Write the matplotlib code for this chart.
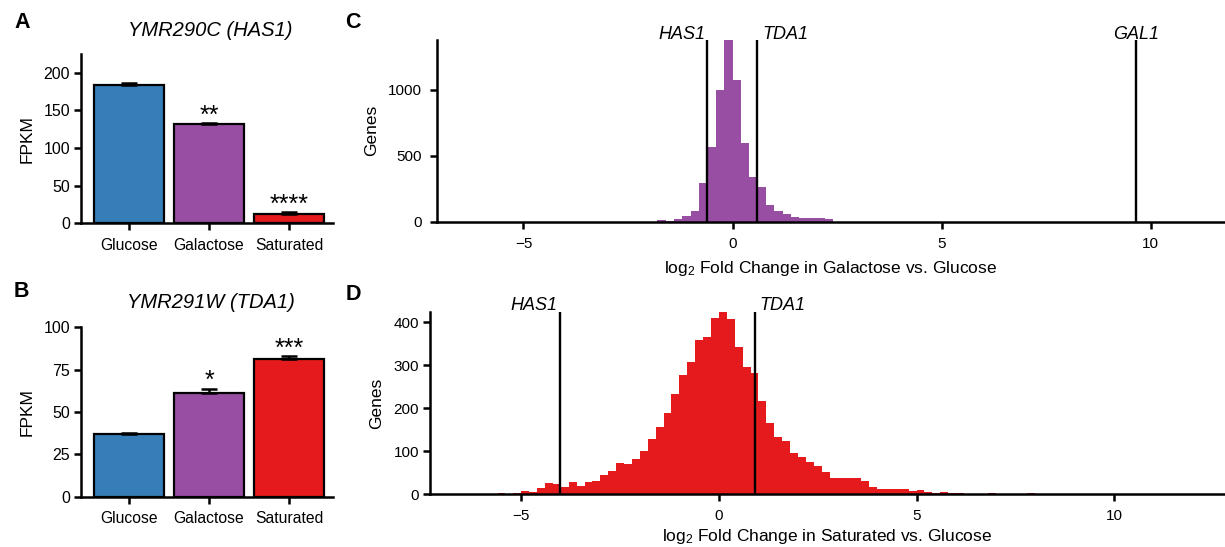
import numpy as np
import matplotlib
matplotlib.use('Agg')
import matplotlib.pyplot as plt

plt.rcParams['font.family'] = ['Liberation Sans', 'DejaVu Sans']
plt.rcParams['mathtext.fontset'] = 'custom'
plt.rcParams['mathtext.rm'] = 'Liberation Sans'
plt.rcParams['mathtext.it'] = 'Liberation Sans:italic'
plt.rcParams['axes.unicode_minus'] = True

# ---------------- data ----------------
conditions = ['Glucose', 'Galactose', 'Saturated']
has1_fpkm = [183.5, 131.5, 12.5]
has1_err = [3.0, 1.5, 2.0]
has1_stars = ['', '**', '****']
tda1_fpkm = [36.8, 61.0, 81.5]
tda1_err = [0.6, 2.7, 1.3]
tda1_stars = ['', '*', '***']

bin_width = 0.2
gal_bin_start = -1.8
gal_counts = [13, 2, 20, 44, 83, 295, 567, 1000, 1378, 1072, 597, 339, 265,
              129, 82, 58, 38, 30, 30, 29, 20]
sat_bin_start = -5.6
sat_counts = [2, 1, 3, 8, 5, 15, 26, 23, 17, 29, 20, 29, 31, 45, 54, 73, 71,
              83, 100, 128, 156, 190, 233, 277, 308, 359, 366, 410, 425, 409,
              344, 297, 282, 217, 166, 134, 124, 96, 86, 76, 65, 53, 39, 39,
              39, 37, 30, 17, 13, 13, 13, 13, 8, 10, 6, 3, 5, 3, 3, 1, 1, 0,
              3, 1, 0, 0, 0, 3, 1]

gal_genes = ['HAS1', 'TDA1', 'GAL1']
gal_gene_lfc = [-0.61, 0.585, 9.64]
sat_genes = ['HAS1', 'TDA1']
sat_gene_lfc = [-4.03, 0.91]

# ---------------- styling ----------------
W, H = 1225, 547
fig = plt.figure(figsize=(W / 100, H / 100), dpi=100)
colors = ['#377EB8', '#984EA3', '#E41A1C']
LW = 1.8


def ax_px(left, top, right, bottom):
    return fig.add_axes([left / W, 1 - bottom / H, (right - left) / W, (bottom - top) / H])


def fig_text(px, py, s, **kw):
    fig.text(px / W, 1 - py / H, s, **kw)


def style_axes(ax, ypad, xpad):
    for s in ['top', 'right']:
        ax.spines[s].set_visible(False)
    for s in ['left', 'bottom']:
        ax.spines[s].set_linewidth(LW)
    ax.tick_params(axis='both', direction='out', length=5.3, width=LW, colors='black')
    ax.tick_params(axis='y', pad=ypad)
    ax.tick_params(axis='x', pad=xpad)


def bar_panel(ax, vals, errs, stars, ylim, yticks):
    x = np.arange(len(conditions))
    ax.bar(x, vals, width=0.88, color=colors, edgecolor='black', linewidth=1.6, zorder=2)
    ax.errorbar(x, vals, yerr=[np.zeros(len(errs)), errs], fmt='none', ecolor='black',
                elinewidth=LW, capsize=5.5, capthick=LW, zorder=3)
    for xi, v, e, s in zip(x, vals, errs, stars):
        if s:
            ax.annotate(s, xy=(xi, v + e), xytext=(0, 0.5), textcoords='offset points',
                        ha='center', va='baseline', fontsize=18)
    ax.set_xlim(-0.6, 2.55)
    ax.set_ylim(*ylim)
    ax.set_yticks(yticks)
    ax.set_xticks(x)
    ax.set_xticklabels(conditions, fontsize=11.3)
    ax.tick_params(axis='y', labelsize=11.5)
    ax.set_ylabel('FPKM', fontsize=12.5, labelpad=6)
    style_axes(ax, ypad=2.7, xpad=5)


def hist_panel(ax, start, counts, color, genes, lfcs, aligns, xlim, yticks, xlabel, ylpad, xlpad):
    edges = start + bin_width * np.arange(len(counts) + 1)
    ax.stairs(counts, edges, fill=True, color=color, linewidth=0, zorder=1)
    ax.set_xlim(*xlim)
    ax.set_ylim(0, max(counts))
    ax.set_yticks(yticks)
    ax.set_xticks([-5, 0, 5, 10])
    for g, v, ha in zip(genes, lfcs, aligns):
        ax.axvline(v, color='black', linewidth=1.7, zorder=3)
        dx = {'right': -1.5, 'left': 3.5, 'center': 0}[ha]
        ax.annotate(g, xy=(v, 1), xycoords=('data', 'axes fraction'), xytext=(dx, 1),
                    textcoords='offset points', ha=ha, va='baseline',
                    fontsize=13, style='italic', annotation_clip=False)
    ax.tick_params(labelsize=11)
    ax.set_ylabel('Genes', fontsize=12.5, labelpad=ylpad)
    ax.set_xlabel(xlabel, fontsize=12.5, labelpad=xlpad)


# Panel A
axA = ax_px(81, 54, 333, 223.3)
bar_panel(axA, has1_fpkm, has1_err, has1_stars, (0, 225), [0, 50, 100, 150, 200])
# Panel B
axB = ax_px(81, 327.3, 333, 496.7)
bar_panel(axB, tda1_fpkm, tda1_err, tda1_stars, (0, 100), [0, 25, 50, 75, 100])

# Panel C
axC = ax_px(437.3, 40, 1224, 221.7)
hist_panel(axC, gal_bin_start, gal_counts, colors[1], gal_genes, gal_gene_lfc,
           ['right', 'left', 'center'], (-7.06, 11.75), [0, 500, 1000],
           r'log$_2$ Fold Change in Galactose vs. Glucose', 6.5, 6)
style_axes(axC, ypad=5.5, xpad=5.5)

# Panel D
axD = ax_px(430, 311.7, 1224, 494.3)
hist_panel(axD, sat_bin_start, sat_counts, colors[2], sat_genes, sat_gene_lfc,
           ['right', 'left'], (-7.31, 12.78), [0, 100, 200, 300, 400],
           r'log$_2$ Fold Change in Saturated vs. Glucose', 7, 3.5)
style_axes(axD, ypad=2.7, xpad=5)

# titles and panel letters
fig_text(210.5, 30.5, 'YMR290C (HAS1)', ha='center', va='center', fontsize=14.5, style='italic')
fig_text(210.5, 302, 'YMR291W (TDA1)', ha='center', va='center', fontsize=14.5, style='italic')
for letter, (px, py) in zip('ABCD', [(22, 22), (21, 291.7), (353.3, 22), (353.3, 294)]):
    fig_text(px, py, letter, ha='center', va='center', fontsize=15.5, fontweight='bold')

fig.savefig('out.png', dpi=100)
